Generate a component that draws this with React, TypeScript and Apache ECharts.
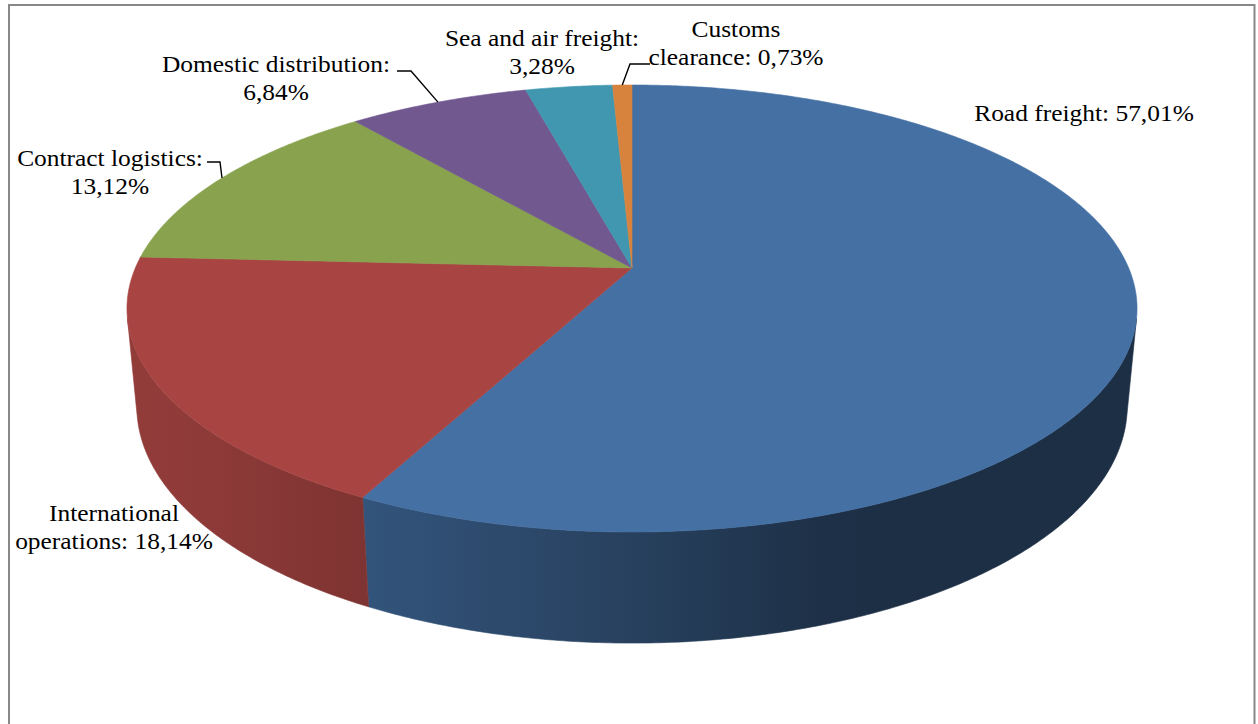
import React, { useEffect, useRef } from "react";
import * as echarts from "echarts";

// ---------- data ----------
const categories = [
  "Road freight",
  "International operations",
  "Contract logistics",
  "Domestic distribution",
  "Sea and air freight",
  "Customs clearance",
];
const shares = [57.01, 18.14, 13.12, 6.84, 3.28, 0.73];
const topColors = ["#4470A4", "#A84543", "#88A24E", "#71588F", "#4197B0", "#D8833D"];

// ---------- label layout (not data) ----------
const labelBreakAfter = [0, 1, 2, 2, 4, 1];
const labelCenter: number[][] = [
  [1084, 113],
  [114, 527],
  [110, 172],
  [276, 78],
  [542, 52],
  [736, 43],
];
const leaderPath: (number[][] | null)[] = [
  null,
  null,
  [[220, 162], [207, 162]],
  [[411, 71], [397, 71]],
  null,
  [[630, 64], [650, 64]],
];

// ---------- 3D projection settings ----------
const CX = 632;
const CY = 268;
const F = 2468;
const SIN_E = 0.4352;
const COS_E = 0.9003;
const DIST = 4.969;
const THICK = 0.2196;

function proj(thetaDeg: number, Y: number): number[] {
  const t = (thetaDeg * Math.PI) / 180;
  const X = Math.sin(t);
  const Z = Math.cos(t);
  const depth = DIST + COS_E * Z - SIN_E * Y;
  return [CX + (F * X) / depth, CY - (F * (COS_E * Y + SIN_E * Z)) / depth];
}

function shade(hex: string, k: number): string {
  const n = parseInt(hex.slice(1), 16);
  const r = Math.round(((n >> 16) & 255) * k);
  const g = Math.round(((n >> 8) & 255) * k);
  const b = Math.round((n & 255) * k);
  return `rgb(${r},${g},${b})`;
}

function wallShade(theta: number): number {
  const d = ((theta - 250) * Math.PI) / 180;
  return 0.42 + 0.45 * Math.max(0, Math.cos(d));
}

function formatLabel(i: number): string {
  const full = `${categories[i]}: ${shares[i].toFixed(2).replace(".", ",")}%`;
  const n = labelBreakAfter[i];
  if (!n) return full;
  const words = full.split(" ");
  return words.slice(0, n).join(" ") + "\n" + words.slice(n).join(" ");
}

const total = shares.reduce((a, b) => a + b, 0);
const startAngles: number[] = [];
{
  let acc = 0;
  for (const v of shares) {
    startAngles.push((acc / total) * 360);
    acc += v;
  }
}

const VIS_MIN = (Math.acos(-1 / (DIST * COS_E)) * 180) / Math.PI;
const VIS_MAX = 360 - VIS_MIN;

const LABEL_FONT = '24px "Liberation Serif", "Times New Roman", "DejaVu Serif", serif';

function renderItem(params: any, api: any) {
  const i = params.dataIndex;
  const value = api.value(0);
  const a0 = startAngles[i];
  const a1 = a0 + (value / total) * 360;
  const color = topColors[i];
  const children: any[] = [];

  // top face
  const topPts: number[][] = [[CX, CY]];
  const steps = Math.max(2, Math.ceil((a1 - a0) / 0.5));
  for (let k = 0; k <= steps; k++) topPts.push(proj(a0 + ((a1 - a0) * k) / steps, 0));
  children.push({
    type: "polygon",
    z2: 10,
    shape: { points: topPts },
    style: { fill: color, stroke: color, lineWidth: 0.6 },
  });

  // outer wall (visible part)
  const w0 = Math.max(a0, VIS_MIN);
  const w1 = Math.min(a1, VIS_MAX);
  if (w1 > w0) {
    const ws = Math.max(2, Math.ceil((w1 - w0) / 0.5));
    const pts: number[][] = [];
    for (let k = 0; k <= ws; k++) pts.push(proj(w0 + ((w1 - w0) * k) / ws, 0));
    for (let k = ws; k >= 0; k--) pts.push(proj(w0 + ((w1 - w0) * k) / ws, -THICK));
    const xr = proj(w0, 0)[0];
    const xl = proj(w1, 0)[0];
    const stops: any[] = [];
    for (let k = 0; k <= 16; k++) {
      const th = w0 + ((w1 - w0) * k) / 16;
      const x = proj(th, 0)[0];
      stops.push({ offset: Math.min(1, Math.max(0, (x - xl) / (xr - xl))), color: shade(color, wallShade(th)) });
    }
    stops.sort((p, q) => p.offset - q.offset);
    const grad = { type: "linear", x: xl, y: 0, x2: xr, y2: 0, global: true, colorStops: stops };
    children.push({
      type: "polygon",
      z2: 1,
      shape: { points: pts },
      style: { fill: grad, stroke: grad, lineWidth: 0.6 },
    });
  }

  // leader line
  const lp = leaderPath[i];
  if (lp) {
    const mid = proj((a0 + a1) / 2, 0);
    children.push({
      type: "polyline",
      z2: 20,
      shape: { points: [mid, ...lp] },
      style: { stroke: "#000", fill: null, lineWidth: 1.4 },
    });
  }

  // label
  children.push({
    type: "text",
    z2: 30,
    x: labelCenter[i][0],
    y: labelCenter[i][1],
    scaleX: 1.06,
    style: {
      text: formatLabel(i),
      fill: "#000",
      font: LABEL_FONT,
      align: "center",
      verticalAlign: "middle",
      textAlign: "center",
      textVerticalAlign: "middle",
      lineHeight: 28,
    },
  });

  return { type: "group", children };
}

export default function App() {
  const ref = useRef<HTMLDivElement>(null);
  useEffect(() => {
    if (!ref.current) return;
    const chart = echarts.init(ref.current, undefined, { renderer: "svg" });
    chart.setOption({
      animation: false,
      backgroundColor: "#ffffff",
      graphic: [
        {
          type: "rect",
          shape: { x: 9, y: 5, width: 1245.5, height: 740 },
          style: { fill: null, stroke: "#888888", lineWidth: 2 },
          silent: true,
        },
      ],
      series: [
        {
          type: "custom",
          name: "Share",
          coordinateSystem: "none",
          renderItem,
          data: shares,
          silent: true,
        },
      ],
    });
    return () => chart.dispose();
  }, []);
  return (
    <div
      ref={ref}
      style={{ position: "absolute", left: 0, top: 0, width: 1258, height: 724 }}
    />
  );
}
